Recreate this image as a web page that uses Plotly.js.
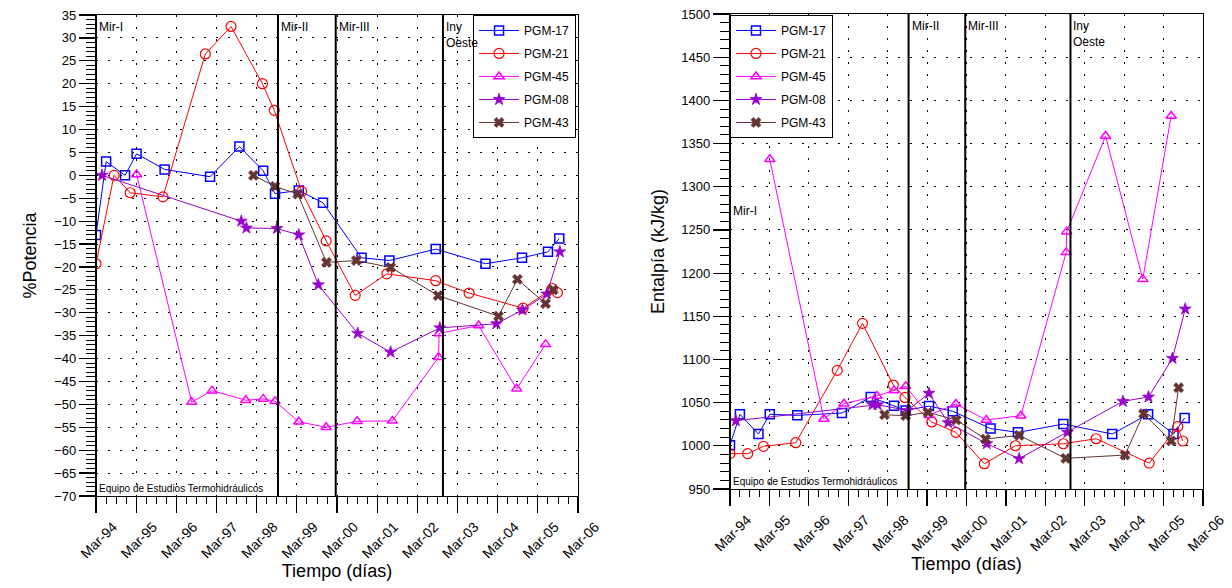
<!DOCTYPE html>
<html><head><meta charset="utf-8">
<script src="https://cdn.plot.ly/plotly-3.0.1.min.js"></script>
<style>html,body{margin:0;padding:0;background:#fff}#chart{width:1232px;height:588px}</style>
</head><body><div id="chart"></div>
<script>
// ---- data ----
const seriesNames = ['PGM-17','PGM-21','PGM-45','PGM-08','PGM-43'];
const datesPGM17 = ['1994-03-01','1994-06-01','1994-11-20','1995-03-05','1995-11-15','1997-01-01','1997-09-25','1998-04-29','1998-08-15','1999-03-19','1999-10-25','2000-10-10','2001-06-20','2002-08-15','2003-11-11','2004-10-08','2005-06-01','2005-09-12'];
const potPGM17 = [-13,3,0,4.7,1.3,-0.3,6.3,1,-4,-3.3,-6,-18,-18.6,-16.1,-19.3,-18,-16.7,-13.8];
const entPGM17 = [1000.6,1036.5,1013.7,1036.5,1035.3,1038,1056.5,1046.4,1041,1046,1040,1020,1015.6,1025.2,1013.7,1036.5,1013.7,1032.2];

const datesPGM21 = ['1994-03-01','1994-08-12','1995-01-06','1995-10-31','1996-11-19','1997-07-11','1998-04-22','1998-08-08','1999-04-14','1999-11-23','2000-08-13','2001-05-28','2002-08-15','2003-06-15','2004-10-18','2005-07-10','2005-08-26'];
const potPGM21 = [-19.3,0,-3.8,-4.7,26.5,32.5,20,14.2,-3.5,-14.3,-26.2,-21.5,-23,-25.7,-29,-24.7,-25.6];
const entPGM21 = [991,991,999.4,1003.6,1087.4,1141.8,1070.4,1056,1027.6,1015.6,979.3,1000.1,1002.4,1008.2,980,1022.2,1005.6];

const datesPGM45 = ['1995-03-05','1996-07-18','1997-01-20','1997-11-22','1998-04-29','1998-08-15','1999-03-19','1999-11-23','2000-08-31','2001-07-17','2002-09-10','2002-09-15','2003-09-10','2004-08-20','2005-05-10'];
const potPGM45 = [0.2,-49.5,-47,-49.1,-48.8,-49.3,-53.8,-55,-53.7,-53.6,-39.7,-34.5,-32.8,-46.6,-36.9];
const entPGM45 = [1331.7,1031,1048.8,1057.7,1064.2,1068.9,1035.5,1048.4,1029.9,1034.9,1224,1248,1358.7,1193,1381.9];

const datesPGM08 = ['1994-04-25','1997-10-12','1997-11-28','1998-09-01','1999-03-19','1999-09-13','2000-09-05','2001-07-01','2002-09-22','2004-02-18','2004-10-12','2005-05-22','2005-09-17'];
const potPGM08 = [0,-10,-11.5,-11.6,-13,-23.9,-34.5,-38.6,-33.3,-32.4,-29.4,-25.9,-16.7];
const entPGM08 = [1029,1047.6,1047.6,1041,1060.8,1026.8,1002.5,985.1,1015.6,1051.5,1056.5,1101.3,1158.4];

const datesPGM43 = ['1998-01-31','1998-08-15','1999-03-10','1999-11-26','2000-08-24','2001-07-02','2002-09-06','2004-03-08','2004-08-27','2005-05-10','2005-07-18'];
const potPGM43 = [0,-2.4,-4.1,-19,-18.6,-20.1,-26.25,-30.75,-22.7,-28,-25];
const entPGM43 = [1036,1034.9,1038.8,1029.9,1007.9,1012.1,985.5,989.3,1037.2,1005.6,1067.3];

const eventDates = ['1994-03-01','1998-09-11','2000-02-18','2002-10-20'];
const eventLabels = ['Mir-I','Mir-II','Mir-III','Iny<br>Oeste'];
const tickDates = ['1994-03-01','1995-03-01','1996-03-01','1997-03-01','1998-03-01','1999-03-01','2000-03-01','2001-03-01','2002-03-01','2003-03-01','2004-03-01','2005-03-01','2006-03-01'];
const tickLabels = ['Mar-94','Mar-95','Mar-96','Mar-97','Mar-98','Mar-99','Mar-00','Mar-01','Mar-02','Mar-03','Mar-04','Mar-05','Mar-06'];

// ---- styles ----
const colors = ['#0000FF','#FF0000','#FF00FF','#9900CC','#663333'];
const symbols = ['square-open','circle-open','triangle-up-open','star','x'];
const sizes = [9,10,9,9,9];
const lw = [1.5,1.2,1.5,0.8,0.5];
const FONT = 'Liberation Sans, Arial, sans-serif';

const dates = [datesPGM17,datesPGM21,datesPGM45,datesPGM08,datesPGM43];
const pots = [potPGM17,potPGM21,potPGM45,potPGM08,potPGM43];
const ents = [entPGM17,entPGM21,entPGM45,entPGM08,entPGM43];

const traces = [];
[['x','y','legend',pots],['x2','y2','legend2',ents]].forEach(([xa,ya,lg,vals],k)=>{
  seriesNames.forEach((n,i)=>{
    traces.push({x:dates[i], y:vals[i], name:n, type:'scatter', mode:'lines+markers', xaxis:xa, yaxis:ya,
      legend:lg, legendgroup:lg+i,
      line:{color:colors[i], width:1}, marker:{symbol:symbols[i], size:sizes[i], color:colors[i], line:{width:lw[i], color:colors[i]}}});
  });
});

const GRID = {showgrid:true, gridcolor:'#000', gridwidth:1, griddash:'2px,10px'};
function xax(domain, anchor){
  return Object.assign({type:'date', domain:domain, anchor:anchor, range:['1994-03-01','2006-03-01'],
    tickmode:'array', tickvals:tickDates, ticktext:tickLabels, tickangle:-45, ticklabelshift:17,
    ticks:'outside', ticklen:16, tickwidth:1.2, tickcolor:'#000',
    minor:{dtick:'M3', tick0:'1994-03-01', ticks:'outside', ticklen:7, tickcolor:'#000', tickwidth:1, showgrid:false},
    showline:true, linecolor:'#000', linewidth:1.2, mirror:true, zeroline:false, automargin:false,
    tickfont:{family:FONT, size:14, color:'#000'},
    title:{text:'Tiempo (días)', font:{family:FONT, size:18, color:'#000'}, standoff:4}}, GRID);
}
function yax(domain, anchor, range, dtick, mdtick, title){
  return Object.assign({domain:domain, anchor:anchor, range:range, dtick:dtick,
    ticks:'outside', ticklen:16, tickwidth:1.2, tickcolor:'#000',
    minor:{dtick:mdtick, ticks:'outside', ticklen:9, tickcolor:'#000', tickwidth:1, showgrid:false},
    showline:true, linecolor:'#000', linewidth:1.2, mirror:true, zeroline:false, automargin:false,
    tickfont:{family:FONT, size:13, color:'#000'},
    title:{text:title, font:{family:FONT, size:18, color:'#000'}, standoff:12}}, GRID);
}

const shapes = [];
const annotations = [];
[['x','y'],['x2','y2']].forEach(([xa,ya],k)=>{
  eventDates.forEach((d,i)=>{
    shapes.push({type:'line', xref:xa, yref:ya+' domain', x0:d, x1:d, y0:0, y1:1, line:{color:'#000', width:2}});
    const isMirI = (i===0);
    annotations.push({xref:xa, yref:ya+' domain', x:d, y:(k===1 && isMirI)?0.61:1, xanchor:'left', yanchor:'top',
      xshift:1, yshift:-3, text:eventLabels[i], showarrow:false, align:'left',
      font:{family:FONT, size:12, color:'#000'}});
  });
  annotations.push({xref:xa, yref:ya+' domain', x:'1994-03-01', y:0, xanchor:'left', yanchor:'bottom', xshift:1, yshift:0,
    text:'Equipo de Estudios Termohidráulicos', showarrow:false, font:{family:FONT, size:10, color:'#000'}});
});

const legendBase = {bgcolor:'#fff', bordercolor:'#000', borderwidth:1, font:{family:FONT, size:12, color:'#000'},
  xanchor:'left', yanchor:'top', itemwidth:40, tracegroupgap:4, orientation:'v'};

const layout = {
  width:1232, height:588, paper_bgcolor:'#fff', plot_bgcolor:'#fff',
  margin:{l:96, r:29, t:14, b:92},
  font:{family:FONT, color:'#000'},
  xaxis: xax([0, 0.4354], 'y'),
  yaxis: yax([0, 0.9979], 'x', [-70,35], 5, 1, '%Potencia'),
  xaxis2: xax([0.5727, 1], 'y2'),
  yaxis2: yax([0.0145, 1], 'x2', [950,1500], 50, 10, 'Entalpía (kJ/kg)'),
  legend: Object.assign({x:0.3406, y:0.998}, legendBase),
  legend2: Object.assign({x:0.5727, y:0.998}, legendBase),
  shapes: shapes, annotations: annotations, showlegend:true
};
Plotly.newPlot('chart', traces, layout, {displayModeBar:false, staticPlot:true});
</script></body></html>
